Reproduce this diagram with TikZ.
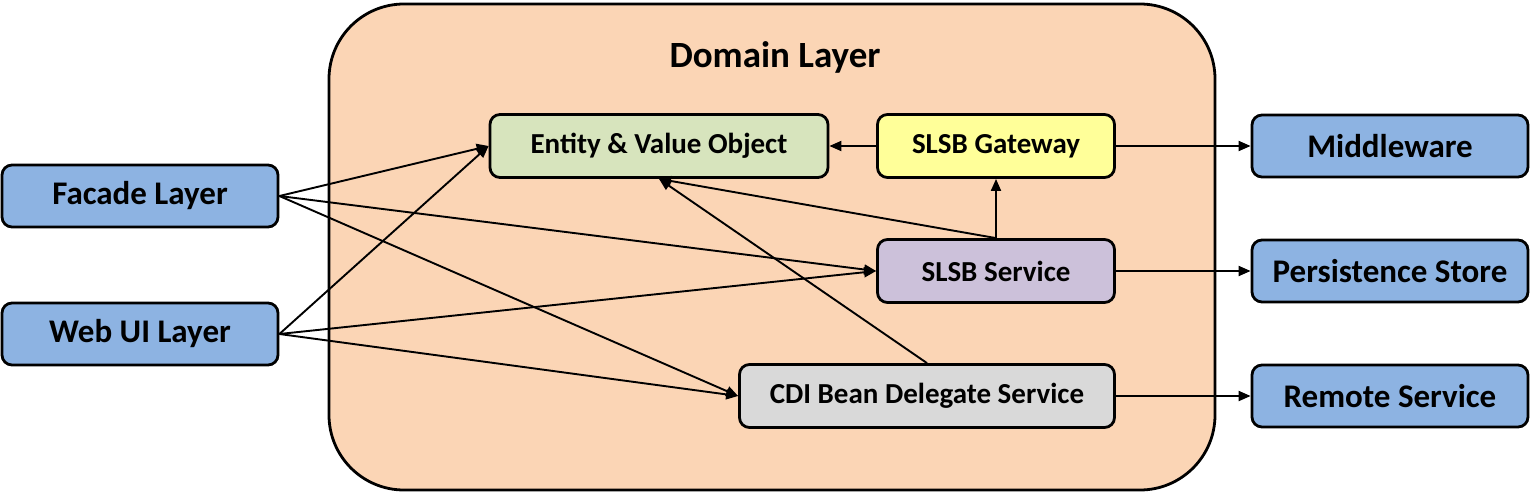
\documentclass[tikz,border=0pt]{standalone}
\usepackage{fontspec}
\setmainfont{Carlito}
\usetikzlibrary{arrows.meta}
\definecolor{domainfill}{HTML}{FBD5B5}
\definecolor{outerblue}{HTML}{8DB3E2}
\definecolor{entityfill}{HTML}{D7E4BD}
\definecolor{gatefill}{HTML}{FFFF99}
\definecolor{svcfill}{HTML}{CCC1DA}
\definecolor{cdifill}{HTML}{D9D9D9}
\tikzset{
  box/.style={draw=black, line width=2.8pt, rounded corners=10pt, inner sep=0pt, font=\bfseries},
  outerbox/.style={box, fill=outerblue, minimum width=276pt, minimum height=62pt, font=\bfseries\fontsize{33}{35}\selectfont},
  innerbox/.style={box, minimum height=63pt, font=\bfseries\fontsize{29}{31}\selectfont},
  conn/.style={line width=1.9pt, -{Triangle[length=12pt,width=10pt]}}
}
\begin{document}
\begin{tikzpicture}[x=1pt,y=-1pt]
\useasboundingbox (0,0) rectangle (1531,493);
\draw[line width=2.8pt, fill=domainfill, rounded corners=75pt] (329,4) rectangle (1215,490);
\node[font=\bfseries\fontsize{37}{39}\selectfont] (title) at (775,57) {Domain Layer};

\node[outerbox] (facade) at (140,196) {Facade Layer};
\node[outerbox] (webui) at (140,334) {Web UI Layer};
\node[outerbox] (mw) at (1390,146) {Middleware};
\node[outerbox] (ps) at (1390,271) {Persistence Store};
\node[outerbox] (rs) at (1390,396) {Remote Service};

\node[innerbox, fill=entityfill, minimum width=338pt] (entity) at (659,146) {Entity \& Value Object};
\node[innerbox, fill=gatefill, minimum width=237pt] (gate) at (996,146) {SLSB Gateway};
\node[innerbox, fill=svcfill, minimum width=237pt] (svc) at (996,271) {SLSB Service};
\node[innerbox, fill=cdifill, minimum width=375pt] (cdi) at (927,396) {CDI Bean Delegate Service};

\draw[conn] (facade.east) -- (entity.west);
\draw[conn] (webui.east) -- (entity.west);
\draw[conn] (facade.east) -- (svc.west);
\draw[conn] (webui.east) -- (svc.west);
\draw[conn] (facade.east) -- (cdi.west);
\draw[conn] (webui.east) -- (cdi.west);
\draw[conn] (gate.west) -- (entity.east);
\draw[conn] (svc.north) -- (gate.south);
\draw[conn] (svc.north) -- (entity.south);
\draw[conn] (cdi.north) -- (entity.south);
\draw[conn] (gate.east) -- (mw.west);
\draw[conn] (svc.east) -- (ps.west);
\draw[conn] (cdi.east) -- (rs.west);
\end{tikzpicture}
\end{document}
